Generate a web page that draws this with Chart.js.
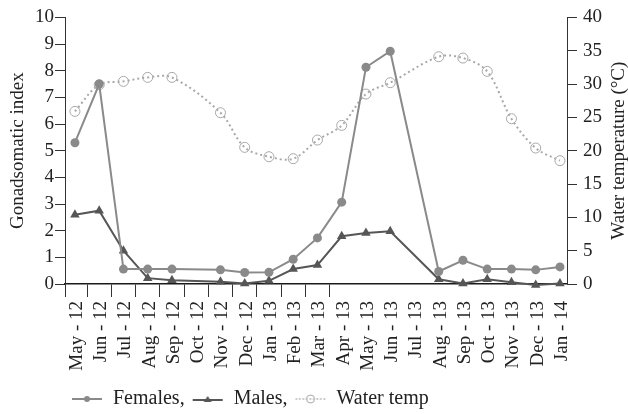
<!DOCTYPE html>
<html>
<head>
<meta charset="utf-8">
<script src="https://cdn.jsdelivr.net/npm/chart.js@4"></script>
<style>
  html, body { margin: 0; padding: 0; background: #fff; }
</style>
</head>
<body>
<canvas id="gsi-chart" width="628" height="414"></canvas>
<script>
// months sampled (Oct-12 and Jul-13 have no samples)
const months = ['May - 12', 'Jun - 12', 'Jul - 12', 'Aug - 12', 'Sep - 12', 'Oct - 12', 'Nov - 12',
    'Dec - 12', 'Jan - 13', 'Feb - 13', 'Mar - 13', 'Apr - 13', 'May - 13', 'Jun - 13', 'Jul - 13',
    'Aug - 13', 'Sep - 13', 'Oct - 13', 'Nov - 13', 'Dec - 13', 'Jan - 14'];
const femalesGSI = [5.3, 7.5, 0.56, 0.56, 0.56, null, 0.53, 0.43, 0.44, 0.93, 1.73, 3.07, 8.13, 8.73, null,
    0.47, 0.89, 0.56, 0.56, 0.53, 0.64];
const malesGSI = [2.6, 2.75, 1.25, 0.22, 0.14, null, 0.08, 0.02, 0.12, 0.56, 0.71, 1.79, 1.91, 1.98, null,
    0.18, 0.02, 0.18, 0.07, -0.04, 0.02];
const waterTemp = [25.9, 29.9, 30.4, 31.0, 31.0, null, 25.7, 20.5, 19.1, 18.8, 21.6, 23.8, 28.5, 30.2, null,
    34.1, 33.9, 31.9, 24.8, 20.4, 18.5];
const seriesNames = ['Females,', 'Males,', 'Water temp'];
const gsiTitle = 'Gonadsomatic index';
const tempTitle = 'Water temperature (\u00B0C)';

const serif = "'Liberation Serif', 'Times New Roman', serif";
const textColor = '#222';
const femaleColor = '#8a8a8a';
const maleColor = '#565656';
const waterColor = '#a8a8a8';

Chart.defaults.font.family = serif;
Chart.defaults.font.size = 19;
Chart.defaults.color = textColor;

function toPoints(values) {
    return values.map((v, i) => ({x: i, y: v}));
}

// small line + marker pictures for the legend
function legendIcon(draw) {
    const c = document.createElement('canvas');
    c.width = 32;
    c.height = 14;
    draw(c.getContext('2d'));
    return c;
}
const legendIcons = [
    legendIcon((ctx) => {
        ctx.strokeStyle = femaleColor; ctx.lineWidth = 2;
        ctx.beginPath(); ctx.moveTo(1, 7); ctx.lineTo(31, 7); ctx.stroke();
        ctx.fillStyle = femaleColor;
        ctx.beginPath(); ctx.arc(16, 7, 3, 0, Math.PI * 2); ctx.fill();
    }),
    legendIcon((ctx) => {
        ctx.strokeStyle = maleColor; ctx.lineWidth = 2;
        ctx.beginPath(); ctx.moveTo(1, 8); ctx.lineTo(31, 8); ctx.stroke();
        ctx.fillStyle = maleColor;
        ctx.beginPath(); ctx.moveTo(16, 4); ctx.lineTo(20, 10); ctx.lineTo(12, 10); ctx.closePath(); ctx.fill();
    }),
    legendIcon((ctx) => {
        ctx.strokeStyle = waterColor; ctx.lineWidth = 1.5; ctx.setLineDash([1.5, 2]);
        ctx.beginPath(); ctx.moveTo(1, 7); ctx.lineTo(31, 7); ctx.stroke();
        ctx.setLineDash([]); ctx.lineWidth = 1;
        ctx.beginPath(); ctx.arc(16, 7, 4, 0, Math.PI * 2); ctx.stroke();
    })
];

// legend sits left of centre and a little lower in the original
const legendShift = {
    id: 'legendShift',
    afterLayout(chart) {
        const lg = chart.legend;
        lg.left = 64;
        lg.top += 5;
        lg.bottom += 5;
    }
};

// right axis title reads bottom to top like the left one,
// and the left axis runs on a little below the baseline
const axisExtras = {
    id: 'axisExtras',
    afterDraw(chart) {
        const {ctx, chartArea} = chart;
        ctx.save();
        ctx.strokeStyle = '#333';
        ctx.lineWidth = 1;
        ctx.beginPath();
        ctx.moveTo(chartArea.left + 0.5, chartArea.bottom);
        ctx.lineTo(chartArea.left + 0.5, chartArea.bottom + 13);
        ctx.stroke();
        ctx.translate(chart.scales.y1.right - 9, (chartArea.top + chartArea.bottom) / 2);
        ctx.rotate(-Math.PI / 2);
        ctx.font = '19px ' + serif;
        ctx.fillStyle = textColor;
        ctx.textAlign = 'center';
        ctx.textBaseline = 'middle';
        ctx.fillText(tempTitle, 0, 0);
        ctx.restore();
    }
};

const chartData = {
    datasets: [{
        label: seriesNames[0],
        data: toPoints(femalesGSI),
        yAxisID: 'y',
        borderColor: femaleColor,
        backgroundColor: femaleColor,
        borderWidth: 2,
        pointStyle: 'circle',
        pointRadius: 4.5,
        pointBorderWidth: 0,
        spanGaps: true,
        clip: false
    }, {
        label: seriesNames[1],
        data: toPoints(malesGSI),
        yAxisID: 'y',
        borderColor: maleColor,
        backgroundColor: maleColor,
        borderWidth: 2,
        pointStyle: 'triangle',
        pointRadius: 5.5,
        pointBorderWidth: 0,
        spanGaps: true,
        clip: false
    }, {
        label: seriesNames[2],
        data: toPoints(waterTemp),
        yAxisID: 'y1',
        borderColor: waterColor,
        borderWidth: 2,
        borderDash: [2, 3],
        tension: 0.35,
        pointStyle: 'circle',
        pointRadius: 5,
        pointBorderWidth: 1,
        pointBorderColor: waterColor,
        pointBackgroundColor: 'rgba(0,0,0,0)',
        spanGaps: true,
        clip: false
    }]
};

const options = {
    responsive: false,
    animation: false,
    layout: {padding: {top: 15, left: 0, right: 0, bottom: 0}},
    plugins: {
        tooltip: {enabled: false},
        legend: {
            position: 'bottom',
            align: 'start',
            labels: {
                usePointStyle: true,
                pointStyleWidth: 32,
                padding: 7,
                color: textColor,
                font: {size: 20},
                generateLabels: (chart) => Chart.defaults.plugins.legend.labels.generateLabels(chart)
                    .map((item, i) => Object.assign(item, {pointStyle: legendIcons[i]}))
            }
        }
    },
    scales: {
        x: {
            type: 'linear',
            min: -0.41,
            max: 20.29,
            afterBuildTicks: (scale) => {
                scale.ticks = months.map((m, i) => ({value: i}));
            },
            ticks: {
                autoSkip: false,
                minRotation: 90,
                maxRotation: 90,
                padding: 4,
                labelOffset: 2,
                color: textColor,
                callback: (value) => months[value]
            },
            grid: {
                drawOnChartArea: false,
                offset: true,
                tickLength: 13,
                tickWidth: 1,
                tickColor: (ctx) => ctx.index <= 11 ? '#333' : 'rgba(0,0,0,0)'
            },
            border: {color: '#1a1a1a', width: 1.5},
            afterFit: (scale) => { scale.height = 93; }
        },
        y: {
            position: 'left',
            min: 0,
            max: 10,
            ticks: {stepSize: 1, padding: 1, color: textColor},
            grid: {drawOnChartArea: false, tickLength: 10, tickColor: '#333'},
            border: {color: '#333'},
            title: {display: true, text: gsiTitle, color: textColor, padding: {top: 7, bottom: 0}},
            afterFit: (scale) => { scale.width = 65; }
        },
        y1: {
            position: 'right',
            min: 0,
            max: 40,
            ticks: {stepSize: 5, padding: 6, color: textColor},
            grid: {drawOnChartArea: false, tickLength: 10, tickColor: '#333'},
            border: {color: '#333'},
            afterFit: (scale) => { scale.width = 61; }
        }
    }
};

const config = {
    type: 'line',
    data: chartData,
    options: options,
    plugins: [legendShift, axisExtras]
};

const gsi_chart = new Chart(document.getElementById('gsi-chart'), config);
</script>
</body>
</html>
